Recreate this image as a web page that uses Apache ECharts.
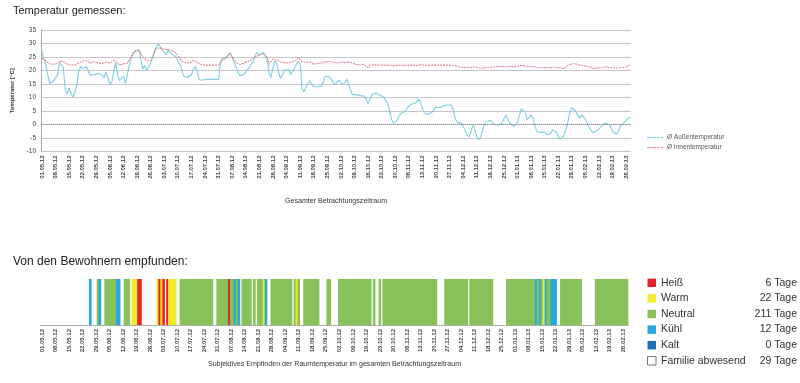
<!DOCTYPE html>
<html><head><meta charset="utf-8">
<script src="https://cdn.jsdelivr.net/npm/echarts@6/dist/echarts.min.js"></script>
<style>html,body{margin:0;padding:0;background:#fff}#c{width:800px;height:383px}</style>
</head><body><div id="c"></div><script>
const FONT = "'Liberation Sans',Arial,sans-serif";
const tickLabels = ['01.05.12','08.05.12','15.05.12','22.05.12','29.05.12','05.06.12','12.06.12','19.06.12','26.06.12','03.07.12','10.07.12','17.07.12','24.07.12','31.07.12','07.08.12','14.08.12','21.08.12','28.08.12','04.09.12','11.09.12','18.09.12','25.09.12','02.10.12','09.10.12','16.10.12','23.10.12','30.10.12','06.11.12','13.11.12','20.11.12','27.11.12','04.12.12','11.12.12','18.12.12','25.12.12','01.01.13','08.01.13','15.01.13','22.01.13','29.01.13','05.02.13','12.02.13','19.02.13','26.02.13'];
const dayCount = 304; // 01.05.12 .. 28.02.13
const days = Array.from({length: dayCount}, (_, i) => i);

// Ø Außentemperatur (daily)
const aussen = [
27,24.4,22,18.3,15.2,15,16.2,16.5,18.3,23,
23.3,21,12.7,11.2,13.5,11.5,10,10.5,14.5,20,
21.5,20.7,21.3,21.5,19.5,18.3,18.5,18.5,18.3,18.9,
18.6,18.3,17.2,19.5,17,15,15.8,19.5,23,18.3,
16.2,16.8,18,15.2,18.5,22,24.6,26,27.3,27.7,
27.8,23.8,20.5,22,20,20.5,22.8,25,27.3,29,
29.8,29.2,27.6,27,25.8,27.5,26.8,26.1,25.5,25,
24.4,22.4,20.5,17.9,17.7,17.4,17.7,18.5,20.5,21.5,
19.5,16.6,15.9,16.5,16.7,16.7,16.7,16.7,16.7,16.7,
16.7,16.7,23.2,24.2,24.5,25,25.3,26.5,25,23,
21.4,19.3,18,17.7,18.6,19.4,20.4,21.4,22.6,23.6,
25.9,26.7,25.7,26.3,26.7,26.8,24.4,18.9,17.4,21,
23.5,22.6,18.9,17,18.6,20.1,19.8,20.4,18.5,18.6,
20.5,22.2,23.5,22.6,13.3,12.1,13.8,15.2,16.2,14.9,
14,13.6,14,13.5,14.2,16,17.9,18.5,17.7,16.7,
15.7,14.9,15.2,16.3,15.7,14.8,15.6,16.7,16.8,12.7,
11,10.9,11.1,10.6,10.7,11.1,10.5,9.5,7.8,9.4,
11.1,11.5,11.7,11.1,10.9,10.6,10.1,9.4,8,5.6,
2.2,0.5,0.2,1.7,3.2,4.2,3.7,4.9,5.6,6.8,
6.7,7.7,7.3,8.1,9.4,8.6,5.9,4.2,4.4,3.8,
4,4.5,5.7,6.5,7.2,6.2,6.2,7,6.6,7.2,
6.5,7.2,5,2,0.8,1,0.5,0.5,-2,-3.8,
-4.6,-2.7,-0.2,-1.8,-4.3,-5.6,-4.8,-2.1,-0.1,1.1,
1.1,1.5,1.3,-0.1,-0.5,-0.2,0,0.5,2,3.5,
2.8,0.6,0.2,-0.7,-1.3,0.8,3.5,5.8,6.2,4.5,
1.8,2.1,3.5,2.5,-0.8,-2.5,-3.2,-3,-2.7,-2.8,
-3.8,-4.5,-3.5,-2,-1.6,-2.8,-4.4,-5.4,-5.7,-4,
-1.5,1,4.5,6.3,6.5,5,3.5,2.2,3.5,3.6,
2,0.4,-1,-2.2,-3,-2.9,-2.3,-1.6,-0.9,-0.2,
0.5,0.6,0.1,-0.9,-2.7,-3.4,-3.6,-2.5,-0.7,0,
0.7,1.5,2.3,2.8];

// Ø Innentemperatur (daily)
const innen = [
24.5,24.3,23.5,22.8,22.5,22.3,22.3,22.4,22.6,23.4,
23.5,23.3,22.8,22.3,22.2,22,22,22,22.2,22.8,
23.5,23.5,24,23.5,23.4,22.7,22.7,23.3,23.2,22.7,
22.8,22.6,23.3,23.2,23.2,22.8,22.8,23.6,24.3,23,
22,22.3,22.5,22.6,22.8,23.5,25,26.8,27.5,27.5,
28,26.5,25,24.5,23.5,23.3,23.6,24.8,26.5,28.3,
28.5,28.3,28,27.8,28,27.8,27.5,27.3,27,26.5,
25.8,24.5,23.5,23.2,22.8,22.6,22.7,23.3,23.8,23.5,
22.9,22.6,22.3,22.1,22,22,22,22,22,22,
22,22,22.5,24.2,24.5,24.5,25,26.5,25,24.3,
23,22.6,22.2,22.3,22.7,23.2,23.3,23.5,24.1,24.4,
25.2,25.6,25.7,26,26.3,26.5,25,22.3,23,24.2,
24.1,23.8,23.5,23.2,23,22.8,22.8,22.8,23,23.2,
23.5,23.8,24.8,24.4,23.2,23,23.1,23,23.2,22.7,
22.3,22.6,22.6,22.5,22.8,23.1,23.2,23.5,23.3,23.1,
23,22.8,22.8,23,23,22.8,23,23.1,23.2,23,
22.8,22.5,22.2,22,22.1,22.3,22.2,21.6,21.1,21.9,
22.1,22.2,22.2,22.1,22,22,21.9,22,21.9,22,
21.9,21.7,21.9,22,21.9,21.7,21.9,22,22,21.9,
22,22.1,22,21.9,22,22.2,22.1,22,22,21.9,
22,22.1,22.2,21.9,21.9,22,22.2,22.1,21.7,21.9,
22,21.9,21.6,21.7,21.7,21.4,21.2,21.1,21.4,21.2,
21,21.1,21.1,21.4,21.2,21,20.6,20.7,21.1,21.2,
21.1,21.1,21.4,21.4,21.2,21.4,21.4,21.5,21.5,21.4,
21.5,21.6,21.5,21.4,21.6,21.6,21.7,21.9,21.9,21.7,
21.7,21.5,21.5,21.4,21.2,21.1,21,21,21.1,21.1,
21,21,21.1,21.2,21.4,21.2,21.1,21,20.9,20.7,
21.2,21.9,22.2,22.5,22.6,22.5,22.2,22,21.9,21.7,
21.7,21.6,21.5,21.1,20.9,20.7,20.9,21,21.1,21.2,
21.4,21.4,21.2,21.1,21,20.9,20.7,20.9,21,21.1,
21.2,21.4,21.7,22];

// Subjektives Empfinden per day: H=Heiß W=Warm N=Neutral K=Kühl C=Kalt -=abwesend/keine Angabe
const feel = [
'-','-','-','-','-','-','-','-','-','-',
'-','-','-','-','-','-','-','-','-','-',
'-','-','-','-','-','K','-','-','-','N',
'K','-','-','N','N','N','N','N','N','K',
'K','-','-','N','N','N','-','W','W','W',
'H','H','-','-','-','-','-','-','-','-',
'W','H','W','H','-','H','W','W','W','W',
'-','-','N','N','N','N','N','N','N','N',
'N','N','N','N','N','N','N','N','N','-',
'-','N','N','N','N','N','N','H','N','N',
'K','N','K','-','N','N','N','N','N','-',
'N','-','N','N','N','W','K','-','-','N',
'N','N','N','N','N','N','N','N','N','N',
'-','N','W','N','-','-','N','N','N','N',
'N','N','N','N','-','-','-','-','N','N',
'-','-','-','-','N','N','N','N','N','N',
'N','N','N','N','N','N','N','N','N','N',
'N','-','N','-','-','N','-','N','N','N',
'N','N','N','N','N','N','N','N','N','N',
'N','N','N','N','N','N','N','N','N','N',
'N','N','N','N','N','-','-','-','-','N',
'N','N','N','N','N','N','N','N','N','N',
'N','-','N','N','N','N','N','N','N','N',
'N','N','N','N','-','-','-','-','-','-',
'-','N','N','N','N','N','N','N','N','N',
'N','N','N','N','N','N','K','N','K','N',
'W','K','N','N','K','K','K','-','-','N',
'N','N','N','N','N','N','N','N','N','N',
'-','-','-','-','-','-','-','N','N','N',
'N','N','N','N','N','N','N','N','N','N',
'N','N','N','N'];

const feelCodes = ['H','W','N','K','C'];
const feelNames = ['Heiß','Warm','Neutral','Kühl','Kalt','Familie abwesend'];
const feelCounts = ['6 Tage','22 Tage','211 Tage','12 Tage','0 Tage','29 Tage'];
const feelColors = ['#e4262a','#f3ea2c','#89c15a','#27a8df','#1b6fb2'];

const chart = echarts.init(document.getElementById('c'), null, {renderer: 'canvas'});

function xAxisFor(gridIndex, name, gap, lineType) {
  return {
    type: 'category', gridIndex, data: days, boundaryGap: true,
    axisTick: {show: false},
    axisLine: {show: lineType !== 'none', lineStyle: {color: '#999', type: lineType === 'none' ? 'solid' : lineType, width: 1}},
    axisLabel: {
      interval: i => i % 7 === 0,
      formatter: (v, i) => tickLabels[Math.round(i / 7)] || '',
      rotate: 90, fontSize: 6, color: '#444', margin: 4, fontFamily: FONT, fontWeight: 'bold'
    },
    splitLine: {show: false},
    name, nameLocation: 'middle', nameGap: gap,
    nameTextStyle: {fontSize: 7.1, color: '#333', fontFamily: FONT}
  };
}

// one column per day, coloured by its category (custom series, positioned by the axis)
const dayData = [];
feel.forEach((f, i) => {
  const k = feelCodes.indexOf(f);
  if (k >= 0) dayData.push([i, 1, k]);
});
const dayColumns = {
  name: 'Empfinden', type: 'custom', xAxisIndex: 1, yAxisIndex: 1,
  encode: {x: 0, y: 1},
  data: dayData,
  renderItem: (params, api) => {
    const i = api.value(0);
    const top = api.coord([i, 1]);
    const base = api.coord([i, 0]);
    const w = api.size([1, 0])[0];
    return {
      type: 'rect',
      shape: {x: top[0] - w / 2 - 0.35, y: top[1], width: w + 0.7, height: base[1] - top[1]},
      style: {fill: feelColors[api.value(2)]}
    };
  },
  animation: false, silent: true
};
// legend-only entries
const legendSeries = feelNames.map((n, k) => ({
  name: n, type: 'bar', xAxisIndex: 1, yAxisIndex: 1, data: [],
  itemStyle: k < 5 ? {color: feelColors[k]} : {color: '#fff', borderColor: '#777', borderWidth: 1}
}));

const dashIcon = 'path://M0,0L2,0L2,1L0,1Z M3,0L5,0L5,1L3,1Z M6,0L8,0L8,1L6,1Z M9,0L11,0L11,1L9,1Z M12,0L14,0L14,1L12,1Z';

chart.setOption({
  animation: false,
  textStyle: {fontFamily: FONT},
  title: [
    {text: 'Temperatur gemessen:', left: 13, top: 5, padding: 0, textStyle: {fontSize: 11, fontWeight: 'normal', color: '#222', fontFamily: FONT}},
    {text: 'Von den Bewohnern empfunden:', left: 13, top: 256, padding: 0, textStyle: {fontSize: 12, fontWeight: 'normal', color: '#222', fontFamily: FONT}}
  ],
  grid: [
    {left: 41, right: 169, top: 30, bottom: 231.5},
    {left: 41, right: 172, top: 279, bottom: 58}
  ],
  xAxis: [
    xAxisFor(0, 'Gesamter Betrachtungszeitraum', 46, 'none'),
    xAxisFor(1, 'Subjektives Empfinden der Raumtemperatur im gesamten Betrachtungszeitraum', 36, 'dotted')
  ],
  yAxis: [
    {type: 'value', gridIndex: 0, min: -10, max: 35, interval: 5,
     axisLine: {show: true, lineStyle: {color: '#aaa'}}, axisTick: {show: false},
     splitLine: {lineStyle: {color: '#c6c6c6', width: 1.2}},
     axisLabel: {fontSize: 6.5, color: '#444', margin: 5, fontFamily: FONT},
     name: 'Temperatur [°C]', nameLocation: 'middle', nameGap: 19, nameRotate: 90,
     nameTextStyle: {fontSize: 6, fontWeight: 'bold', color: '#333', fontFamily: FONT}},
    {type: 'value', gridIndex: 1, min: 0, max: 1, show: false}
  ],
  legend: [
    {orient: 'vertical', left: 647, top: 134, padding: 0, itemWidth: 16, itemHeight: 5, itemGap: 3,
     textStyle: {fontSize: 6.5, color: '#555', fontFamily: FONT, padding: [0, 0, 0, -1]},
     data: [
       {name: 'Ø Außentemperatur', icon: dashIcon, itemStyle: {color: '#6cc8dc'}},
       {name: 'Ø Innentemperatur', icon: dashIcon, itemStyle: {color: '#e08a90'}}
     ]},
    {orient: 'vertical', left: 647, top: 275, padding: 0, itemWidth: 8.5, itemHeight: 8.5, itemGap: 0,
     icon: 'rect',
     data: feelNames.map((n, k) => k < 5 ? {name: n, itemStyle: {color: feelColors[k]}} : {name: n, itemStyle: {color: '#fff', borderColor: '#777', borderWidth: 1}}),
     formatter: name => '{n|' + name + '}{v|' + feelCounts[feelNames.indexOf(name)] + '}',
     textStyle: {
       fontFamily: FONT, fontSize: 10.5, color: '#333', lineHeight: 15.6,
       rich: {
         n: {width: 80, fontSize: 10.5, color: '#333', fontFamily: FONT, lineHeight: 15.6},
         v: {width: 56, align: 'right', fontSize: 10.5, color: '#333', fontFamily: FONT, lineHeight: 15.6}
       }
     }}
  ],
  series: [
    {name: 'Ø Außentemperatur', type: 'line', xAxisIndex: 0, yAxisIndex: 0, data: aussen,
     symbol: 'none', smooth: false, lineStyle: {color: '#7ccfe2', width: 1.1}, itemStyle: {color: '#7ccfe2'},
     markLine: {silent: true, symbol: ['none', 'none'], label: {show: false},
       lineStyle: {color: '#888', type: [1, 1], width: 1.2}, data: [{yAxis: 0}]}},
    {name: 'Ø Innentemperatur', type: 'line', xAxisIndex: 0, yAxisIndex: 0, data: innen,
     symbol: 'none', lineStyle: {color: '#e0868c', width: 1.1, type: [2, 1]}, itemStyle: {color: '#e0868c'}},
    dayColumns,
    ...legendSeries
  ]
});
</script></body></html>
